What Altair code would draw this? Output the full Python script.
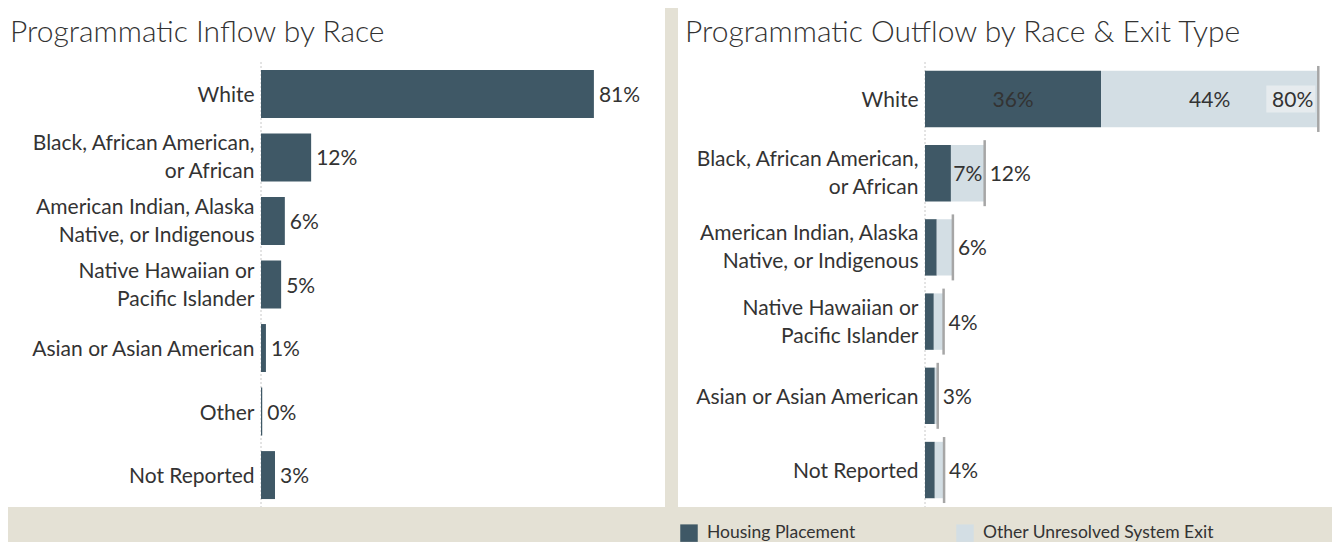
import altair as alt
import pandas as pd

# ---------------- data ----------------
in_races = ["White", "Black, African American,|or African",
            "American Indian, Alaska|Native, or Indigenous",
            "Native Hawaiian or|Pacific Islander", "Asian or Asian American",
            "Other", "Not Reported"]
in_values = [0.81, 0.122, 0.058, 0.049, 0.012, 0.003, 0.034]

out_races = ["White", "Black, African American,|or African",
             "American Indian, Alaska|Native, or Indigenous",
             "Native Hawaiian or|Pacific Islander", "Asian or Asian American",
             "Not Reported"]
housing = [0.36, 0.053, 0.024, 0.018, 0.020, 0.020]
other_exit = [0.444, 0.069, 0.033, 0.020, 0.006, 0.019]
exit_types = ["Housing Placement", "Other Unresolved System Exit"]

title_left = "Programmatic Inflow by Race"
title_right = "Programmatic Outflow by Race & Exit Type"

# ---------------- style ----------------
FONT = "Lato"
FS = 21
DARK = "#3F5866"
LIGHT = "#D3DEE4"
BEIGE = "#E4E1D5"
TXT = "#333333"
H = 445

in_df = pd.DataFrame({"race": in_races, "value": in_values})
rows = []
for r, h, o in zip(out_races, housing, other_exit):
    rows.append({"race": r, "type": exit_types[0], "value": h,
                 "x0": 0.0, "x1": h, "mid": h / 2})
    rows.append({"race": r, "type": exit_types[1], "value": o,
                 "x0": h, "x1": h + o, "mid": h + o / 2})
out_df = pd.DataFrame(rows)
tot_df = pd.DataFrame({"race": out_races,
                       "total": [h + o for h, o in zip(housing, other_exit)]})

yaxis = alt.Axis(title=None, domain=False, ticks=False, labelFont=FONT,
                 labelFontSize=FS, labelColor=TXT, labelPadding=7,
                 labelLineHeight=28, labelLimit=320, zindex=1,
                 labelOffset={"condition": {"test": "indexof(datum.value, '|') >= 0",
                                            "value": -13},
                              "value": 2},
                 labelExpr="split(datum.label, '|')")


def panel_bg(x0, x1):
    return alt.Chart(pd.DataFrame({"a": [0]})).mark_rect(color="white").encode(
        x=alt.value(x0), x2=alt.value(x1), y=alt.value(-54), y2=alt.value(H))


def panel_title(txt, x):
    return alt.Chart(pd.DataFrame({"t": [txt]})).mark_text(
        align="left", baseline="alphabetic", font=FONT, fontSize=30,
        fontWeight=300, color=TXT).encode(
        text="t:N", x=alt.value(x), y=alt.value(-20))


def zero_rule():
    return alt.Chart(pd.DataFrame({"a": [0]})).mark_rule(
        color="#c8c8c8", strokeDash=[2, 2]).encode(
        x=alt.value(0), y=alt.value(0), y2=alt.value(H))


# ---------------- left chart ----------------
ly = alt.Y("race:N", sort=in_races, axis=yaxis,
           scale=alt.Scale(paddingInner=0.245, paddingOuter=0.125))
lx = alt.X("value:Q", axis=None, scale=alt.Scale(domain=[0, 0.983], nice=False))

lbase = alt.Chart(in_df)
left = alt.layer(
    panel_bg(-253, 404),
    panel_title(title_left, -251),
    zero_rule(),
    lbase.mark_bar(color=DARK).encode(x=lx, y=ly),
    lbase.mark_text(align="left", dx=5, dy=2, font=FONT, fontSize=FS,
                    color=TXT).encode(
        x=lx, y=ly, text=alt.Text("value:Q", format=".0%")),
).properties(width=404, height=H)

# ---------------- right chart ----------------
ry = alt.Y("race:N", sort=out_races, axis=yaxis,
           scale=alt.Scale(paddingInner=0.24, paddingOuter=0.118))
rscale = alt.Scale(domain=[0, 0.832], nice=False)

color = alt.Color("type:N", scale=alt.Scale(domain=exit_types, range=[DARK, LIGHT]),
                  legend=alt.Legend(title=None, orient="none", legendX=419,
                                    legendY=462, direction="horizontal",
                                    symbolType="square", symbolSize=306,
                                    symbolStrokeWidth=0, symbolOpacity=1,
                                    labelFont=FONT, labelFontSize=17.5,
                                    labelColor=TXT, labelOffset=9,
                                    labelLimit=400, columnPadding=100,
                                    padding=0))

rbase = alt.Chart(out_df)
tbase = alt.Chart(tot_df)
right = alt.layer(
    panel_bg(-247, 407),
    panel_title(title_right, -240),
    zero_rule(),
    rbase.mark_bar().encode(
        x=alt.X("x0:Q", scale=rscale, axis=None), x2="x1:Q", y=ry, color=color),
    rbase.transform_filter("datum.value >= 0.06").mark_text(
        dy=2, font=FONT, fontSize=FS, color=TXT).encode(
        x=alt.X("mid:Q", scale=rscale), y=ry,
        text=alt.Text("value:Q", format=".0%")),
    tbase.transform_filter("datum.total > 0.7").mark_bar(
        size=27, xOffset=-52, x2Offset=-3, color="#E6EBEE").encode(
        x=alt.X("total:Q", scale=rscale), x2="total:Q", y=ry),
    tbase.mark_tick(orient="vertical", size=66, thickness=2.5,
                    color="#A6A6A6", opacity=1).encode(
        x=alt.X("total:Q", scale=rscale), y=ry),
    tbase.transform_filter("datum.total > 0.7").mark_text(
        align="right", dx=-5, dy=2, font=FONT, fontSize=FS, color=TXT).encode(
        x=alt.X("total:Q", scale=rscale), y=ry,
        text=alt.Text("total:Q", format=".0%")),
    tbase.transform_filter("datum.total <= 0.7").mark_text(
        align="left", dx=5, dy=2, font=FONT, fontSize=FS, color=TXT).encode(
        x=alt.X("total:Q", scale=rscale), y=ry,
        text=alt.Text("total:Q", format=".0%")),
).properties(width=407, height=H)

chart = alt.hconcat(left, right, spacing=260, bounds="flush").resolve_scale(
    x="independent", y="independent"
).properties(background=BEIGE, padding=0).configure_view(stroke=None)

chart.save("out.html", embed_options={"renderer": "svg", "actions": False})
